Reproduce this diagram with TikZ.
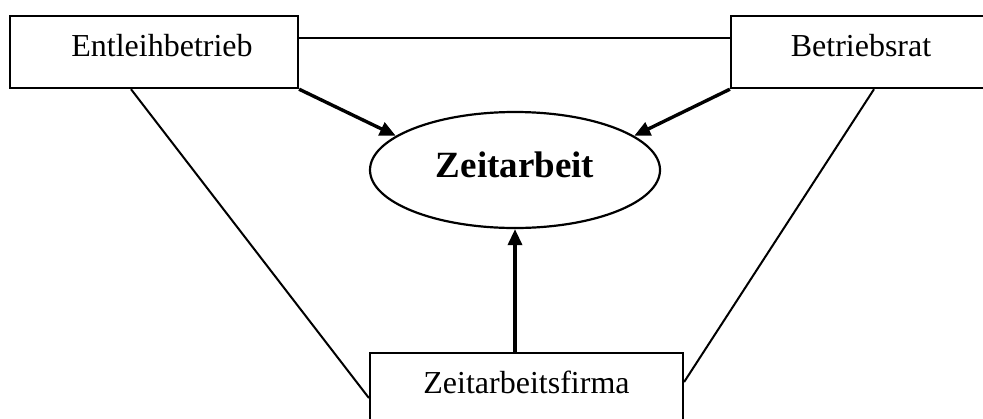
\documentclass[tikz,border=0pt]{standalone}
\usepackage{fontspec}
\setmainfont{Liberation Serif}
\usetikzlibrary{shapes.geometric,arrows.meta}
\tikzset{
  box/.style={draw, line width=1.1pt, inner xsep=0pt, inner ysep=0pt,
    text height=20pt, text depth=16pt, anchor=north,
    font=\fontsize{16}{19}\selectfont},
}
\begin{document}
\begin{tikzpicture}[x=0.5pt,y=-0.5pt]
\useasboundingbox (0,0) rectangle (983,418);
\node[box, minimum width=144pt] (entleih) at (154,15) {\hspace*{8pt}Entleihbetrieb};
\node[box, minimum width=130pt] (betrieb) at (861,15) {Betriebsrat};
\node[box, minimum width=156.5pt, text depth=25pt] (firma) at (526.5,352) {Zeitarbeitsfirma};
\node[draw, ellipse, line width=1.1pt, minimum width=145pt, minimum height=58pt, inner sep=0pt,
  font=\fontsize{18.5}{22}\selectfont\bfseries] (zeit) at (515,170) {\raisebox{5pt}{Zeitarbeit}};

\path[draw,line width=1pt] ([yshift=-11.5pt]entleih.north east) -- ([yshift=-11.5pt]betrieb.north west);
\path[draw,line width=1pt] ([xshift=-11.5pt]entleih.south) -- ([yshift=-23pt]firma.north west);
\path[draw,line width=1pt] ([xshift=6.5pt]betrieb.south) -- ([yshift=-15pt]firma.north east);

\path[draw,line width=1.7pt,-{Triangle[length=8pt,width=7pt]}] (entleih.south east) -- (zeit.164);
\path[draw,line width=1.7pt,-{Triangle[length=8pt,width=7pt]}] (betrieb.south west) -- (zeit.16);
\path[draw,line width=1.7pt,-{Triangle[length=8pt,width=7pt]}] (firma.north -| zeit.south) -- (zeit.south);
\end{tikzpicture}
\end{document}
